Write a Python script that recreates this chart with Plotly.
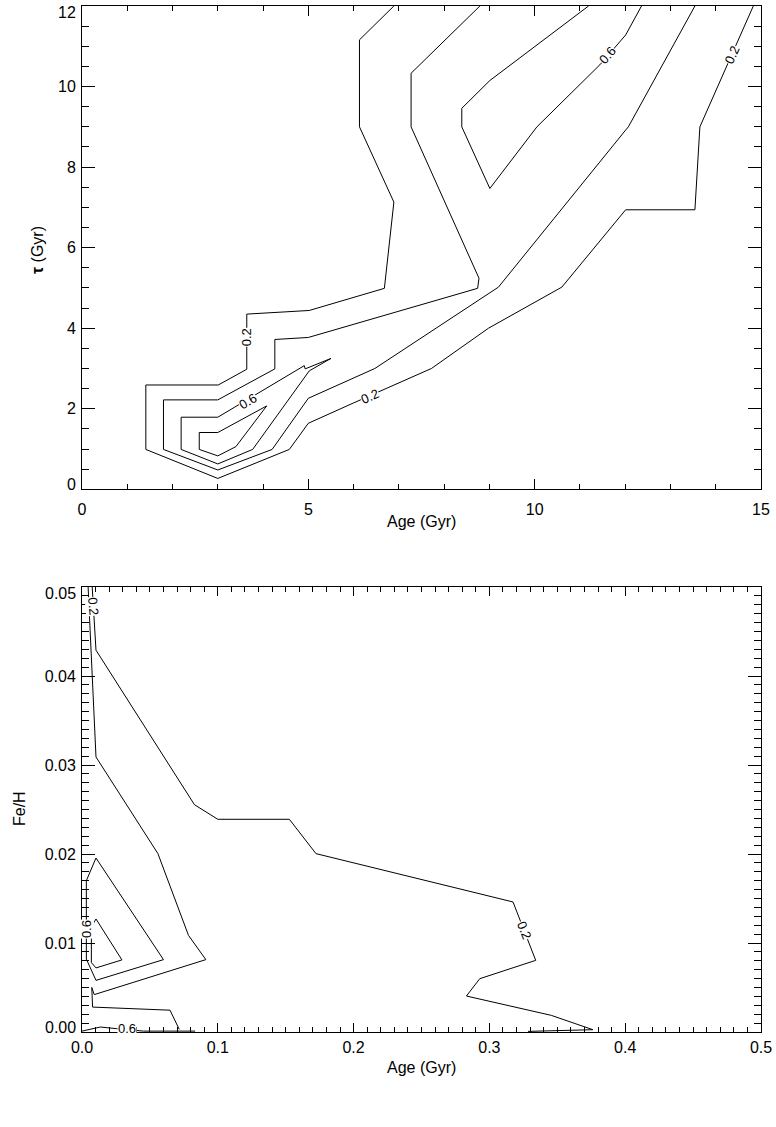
import plotly.graph_objects as go

# ---------------- Top panel: Age vs tau contours ----------------
# level 0.2
top_02_age = [6.89, 6.13, 6.13, 6.89, 6.68, 5.02, 3.64, 3.64, 3.01, 1.41, 1.41, 3.00, 4.58, 5.00, 5.99, 7.72, 8.98, 10.60, 12.01, 13.54, 13.65, 14.83]
top_02_tau = [12.0, 11.16, 9.00, 7.13, 4.99, 4.44, 4.35, 2.98, 2.59, 2.59, 0.99, 0.27, 0.99, 1.64, 2.14, 3.00, 4.00, 5.02, 6.94, 6.94, 9.00, 12.0]
# level 0.4
top_04_age = [8.79, 7.27, 7.27, 8.77, 8.74, 5.00, 4.26, 4.26, 3.00, 1.80, 1.80, 3.00, 4.20, 5.00, 6.47, 9.20, 12.01, 12.07, 13.54]
top_04_tau = [12.0, 10.33, 9.00, 5.24, 4.99, 3.77, 3.72, 2.99, 2.22, 2.22, 0.99, 0.48, 0.99, 2.26, 3.00, 5.02, 8.92, 9.00, 12.0]
# level 0.6 (upper right)
top_06a_age = [11.19, 9.01, 8.39, 8.39, 9.01, 10.05, 11.44, 12.01, 12.36]
top_06a_tau = [12.0, 10.15, 9.46, 9.00, 7.47, 9.00, 10.54, 11.28, 12.0]
# level 0.6 (lower left, closed)
top_06b_age = [2.19, 3.00, 4.91, 4.93, 5.50, 5.02, 3.77, 3.00, 2.19, 2.19]
top_06b_tau = [1.79, 1.79, 3.07, 2.99, 3.25, 2.94, 0.99, 0.63, 0.99, 1.79]
# level 0.8 (closed)
top_08_age = [2.59, 3.00, 4.08, 3.40, 3.00, 2.59, 2.59]
top_08_tau = [1.41, 1.41, 2.07, 1.06, 0.83, 0.99, 1.41]

top_label_text = ["0.2", "0.2", "0.6", "0.6", "0.2"]
top_label_age = [3.64, 6.36, 3.66, 11.61, 14.35]
top_label_tau = [3.77, 2.30, 2.18, 10.76, 10.78]
top_label_angle = [-90, -24, -31, -49, -66]

top_x_ticks = [0, 5, 10, 15]
top_y_ticks = [0, 2, 4, 6, 8, 10, 12]

# ---------------- Bottom panel: Age vs Fe/H contours ----------------
bot_02_age = [0.0075, 0.0093, 0.0103, 0.0828, 0.1000, 0.1527, 0.1723, 0.3174, 0.3223, 0.3341, 0.2929, 0.2831, 0.3456, 0.3762, 0.3284]
bot_02_feh = [0.0500, 0.0461, 0.0429, 0.02554, 0.0239, 0.0239, 0.02004, 0.01461, 0.01273, 0.00805, 0.00599, 0.00404, 0.00187, 0.00026, 0.00007]
bot_04_age = [0.0045, 0.0103, 0.0559, 0.0784, 0.0912, 0.0090, 0.0072, 0.0078, 0.0648, 0.0716]
bot_04_feh = [0.0500, 0.0309, 0.02004, 0.01086, 0.00813, 0.0042, 0.0050, 0.0028, 0.00245, 0.0003]
bot_06_age = [0.0103, 0.0600, 0.0103, 0.0032, 0.0032, 0.0103]
bot_06_feh = [0.01955, 0.00813, 0.0058, 0.0082, 0.0170, 0.01955]
bot_08_age = [0.0103, 0.0294, 0.0103, 0.0069, 0.0069, 0.0103]
bot_08_feh = [0.0127, 0.0081, 0.0072, 0.0078, 0.0118, 0.0127]
bot_06b_age = [0.0, 0.0135, 0.0257, 0.0453, 0.0833]
bot_06b_feh = [0.0001, 0.00056, 0.00037, 0.0001, 0.0001]

bot_label_text = ["0.2", "0.2", "0.6", "0.6"]
bot_label_age = [0.0083, 0.3257, 0.0032, 0.033]
bot_label_feh = [0.0478, 0.0114, 0.0116, 0.0004]
bot_label_angle = [85, 69, -90, 0]

bot_x_ticks = [0.0, 0.1, 0.2, 0.3, 0.4, 0.5]
bot_y_ticks = [0.00, 0.01, 0.02, 0.03, 0.04, 0.05]

W, H = 776, 1127
FONT = "Liberation Sans"

fig = go.Figure()
line = dict(color="black", width=1)

for xs, ys in [(top_02_age, top_02_tau), (top_04_age, top_04_tau), (top_06a_age, top_06a_tau),
               (top_06b_age, top_06b_tau), (top_08_age, top_08_tau)]:
    fig.add_trace(go.Scatter(x=xs, y=ys, mode="lines", line=line, xaxis="x", yaxis="y",
                             showlegend=False, hoverinfo="skip"))

for xs, ys in [(bot_02_age, bot_02_feh), (bot_04_age, bot_04_feh), (bot_06_age, bot_06_feh),
               (bot_08_age, bot_08_feh), (bot_06b_age, bot_06b_feh)]:
    fig.add_trace(go.Scatter(x=xs, y=ys, mode="lines", line=line, xaxis="x2", yaxis="y2",
                             showlegend=False, hoverinfo="skip"))

annotations = []
for t, x, y, a in zip(top_label_text, top_label_age, top_label_tau, top_label_angle):
    annotations.append(dict(text=t, x=x, y=y, xref="x", yref="y", showarrow=False, textangle=a,
                            bgcolor="white", borderpad=0, font=dict(family=FONT, size=13, color="black")))
for t, x, y, a in zip(bot_label_text, bot_label_age, bot_label_feh, bot_label_angle):
    annotations.append(dict(text=t, x=x, y=y, xref="x2", yref="y2", showarrow=False, textangle=a,
                            bgcolor="white", borderpad=0, font=dict(family=FONT, size=13, color="black")))

def px(xp):
    return xp / W

def py(yp):
    return 1 - yp / H

title_font = dict(family=FONT, size=16, color="black")
tickfont = dict(family=FONT, size=16, color="black")
annotations += [
    dict(text="Age (Gyr)", x=px(421.5), y=py(521.5), xref="paper", yref="paper", showarrow=False,
         xanchor="center", yanchor="middle", font=title_font),
    dict(text="<b>τ</b> (Gyr)", x=px(37), y=py(250), xref="paper", yref="paper", showarrow=False,
         textangle=-90, xanchor="center", yanchor="middle", font=title_font),
    dict(text="Age (Gyr)", x=px(421.5), y=py(1067), xref="paper", yref="paper", showarrow=False,
         xanchor="center", yanchor="middle", font=title_font),
    dict(text="Fe/H", x=px(19), y=py(809), xref="paper", yref="paper", showarrow=False,
         textangle=-90, xanchor="center", yanchor="middle", font=title_font),
]

# end labels of the y axes are nudged inward (as the original plotting package does)
top_y_text = ["" if v in (top_y_ticks[0], top_y_ticks[-1]) else str(v) for v in top_y_ticks]
bot_y_text = ["" if v in (bot_y_ticks[0], bot_y_ticks[-1]) else f"{v:.2f}" for v in bot_y_ticks]
for txt, ypix in [(str(top_y_ticks[-1]), 13), (str(top_y_ticks[0]), 484)]:
    annotations.append(dict(text=txt, x=px(78), y=py(ypix), xref="paper", yref="paper", showarrow=False,
                            xanchor="right", yanchor="middle", font=tickfont))
for txt, ypix in [(f"{bot_y_ticks[-1]:.2f}", 593), (f"{bot_y_ticks[0]:.2f}", 1027)]:
    annotations.append(dict(text=txt, x=px(77.5), y=py(ypix), xref="paper", yref="paper", showarrow=False,
                            xanchor="right", yanchor="middle", font=tickfont))


def axis_common(domain, rng, tickvals, ticktext, mdtick, tlen, mlen, anchor=None, standoff=3):
    return dict(domain=domain, range=rng, tickmode="array", tickvals=tickvals, ticktext=ticktext,
                showgrid=False, zeroline=False,
                showline=True, linecolor="black", linewidth=1, mirror="allticks",
                ticks="inside", ticklen=tlen, tickwidth=1, tickcolor="black",
                minor=dict(dtick=mdtick, tick0=0, ticks="inside", ticklen=mlen, tickwidth=1,
                           tickcolor="black", showgrid=False),
                tickfont=tickfont, fixedrange=True, ticklabelstandoff=standoff, anchor=anchor,
                automargin=False, ticklabeloverflow="allow")

top_x_dom = [82 / W, 761 / W]
top_y_dom = [py(489.3), py(6)]
bot_x_dom = [82 / W, 761 / W]
bot_y_dom = [py(1032), py(587)]

fig.update_layout(
    template="none",
    width=W, height=H, autosize=False,
    margin=dict(l=0, r=0, t=0, b=0, pad=0),
    paper_bgcolor="white", plot_bgcolor="white",
    xaxis=axis_common(top_x_dom, [0, 15], top_x_ticks, [str(v) for v in top_x_ticks], 1, 10, 5,
                      anchor="y", standoff=5),
    yaxis=axis_common(top_y_dom, [0, 12], top_y_ticks, top_y_text, 0.5, 13, 7, anchor="x", standoff=2),
    xaxis2=axis_common(bot_x_dom, [0, 0.5], bot_x_ticks, [f"{v:.1f}" for v in bot_x_ticks], 0.01, 9, 5,
                       anchor="y2", standoff=1),
    yaxis2=axis_common(bot_y_dom, [0, 0.05], bot_y_ticks, bot_y_text, 0.001, 13, 7, anchor="x2", standoff=2),
    annotations=annotations,
    showlegend=False,
)

fig.write_html("out.html", config={"displayModeBar": False},
               post_script="document.body.style.margin='0px';document.body.style.overflow='hidden';")
